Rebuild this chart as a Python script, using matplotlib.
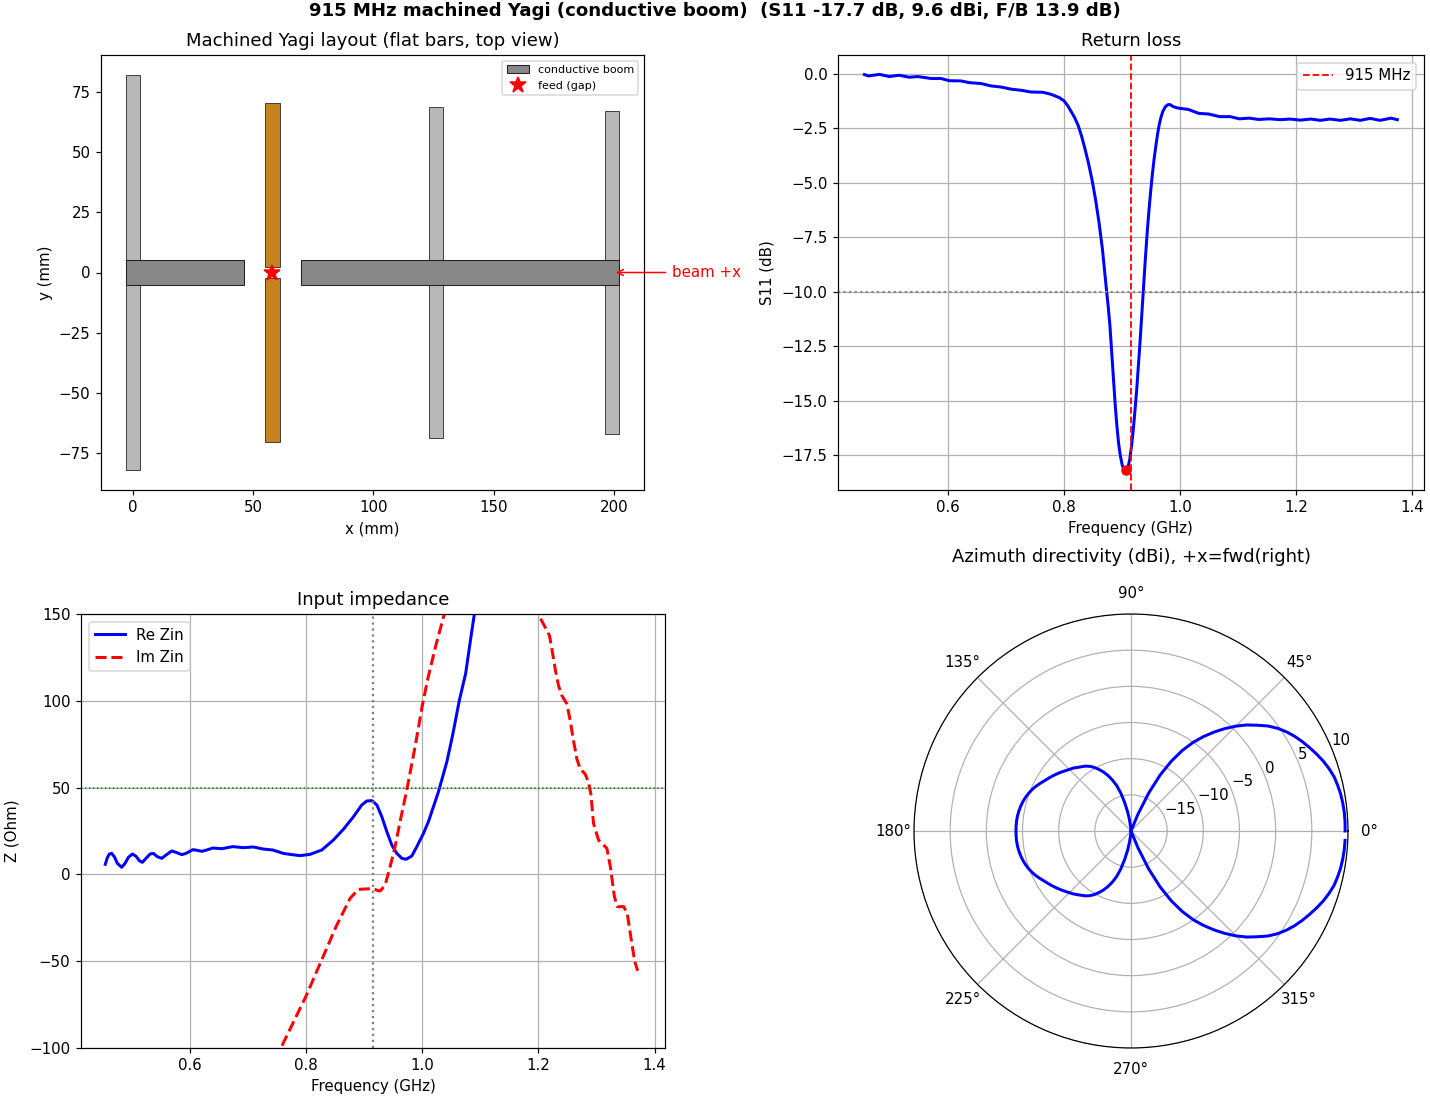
"""915 MHz machined Yagi: layout, S11, input impedance, azimuth pattern."""
import numpy as np
import matplotlib
matplotlib.use("Agg")
import matplotlib.pyplot as plt
from matplotlib.patches import Rectangle

W = 1430.0
H = 1100.0
DPI = 108

# layout (mm): element centre x, half length
ELEM_X = [0, 126, 199.2]
ELEM_HALF_LEN = [82, 68.8, 67]
DRIVEN_X = 58
DRIVEN_HALF_LEN = 70.4
DRIVEN_GAP = 2.4
BAR_W = 6
BOOM_SPANS = [(-3, 46), (70, 202)]
BOOM_W = 10

# S11 (GHz, dB)
S11_F = [0.456, 0.463, 0.482, 0.499, 0.516, 0.533, 0.548, 0.571, 0.588, 0.602, 0.622, 0.637,
         0.657, 0.674, 0.691, 0.709, 0.726, 0.743, 0.763, 0.777, 0.792, 0.800, 0.806, 0.812,
         0.818, 0.824, 0.830, 0.836, 0.842, 0.848, 0.854, 0.860, 0.866, 0.873, 0.876, 0.879,
         0.882, 0.885, 0.888, 0.891, 0.894, 0.897, 0.900, 0.903, 0.907, 0.910, 0.913, 0.916,
         0.919, 0.922, 0.925, 0.928, 0.931, 0.934, 0.937, 0.940, 0.943, 0.946, 0.949, 0.952,
         0.955, 0.958, 0.961, 0.964, 0.967, 0.970, 0.974, 0.978, 0.982, 0.986, 0.990, 0.995,
         1.000, 1.014, 1.032, 1.049, 1.068, 1.086, 1.102, 1.119, 1.135, 1.154, 1.172,
         1.189, 1.207, 1.225, 1.241, 1.258, 1.276, 1.293, 1.310, 1.327, 1.344, 1.363, 1.374]
S11_DB = [-0.03, -0.09, -0.02, -0.12, -0.06, -0.15, -0.12, -0.21, -0.21, -0.31, -0.32, -0.40,
          -0.44, -0.55, -0.60, -0.70, -0.75, -0.83, -0.84, -0.93, -1.09, -1.24, -1.45, -1.72,
          -2.0, -2.35, -2.85, -3.45, -4.1, -4.85, -5.75, -6.8, -8.05, -9.93, -10.7, -11.6,
          -12.8, -14.0, -15.2, -16.2, -17.0, -17.55, -17.95, -18.15, -18.2, -18.05, -17.7, -17.1,
          -16.36, -15.45, -14.5, -13.35, -12.2, -10.95, -9.7, -8.45, -7.3, -6.3, -5.4, -4.6,
          -3.9, -3.3, -2.75, -2.3, -1.97, -1.72, -1.52, -1.42, -1.4, -1.47, -1.52, -1.56,
          -1.58, -1.63, -1.81, -1.84, -1.96, -1.96, -2.06, -2.03, -2.09, -2.06, -2.10,
          -2.07, -2.12, -2.07, -2.13, -2.07, -2.13, -2.06, -2.13, -2.04, -2.13, -2.03, -2.10]
S11_MIN_F = 0.907
S11_MIN_DB = -18.2

# input impedance (GHz, ohm)
RE_F = [0.455, 0.4585, 0.462, 0.466, 0.4705, 0.4757, 0.4833, 0.489, 0.4947, 0.5016, 0.508, 0.5136,
        0.5188, 0.5251, 0.532, 0.5377, 0.5446, 0.5522, 0.5596, 0.5694, 0.5768, 0.5866, 0.594, 0.6055,
        0.6124, 0.621, 0.6296, 0.640, 0.6554, 0.6743, 0.6926, 0.7098, 0.727, 0.7432, 0.7614, 0.7759,
        0.790, 0.8074, 0.8275, 0.8475, 0.8647, 0.8819, 0.8963, 0.905, 0.9136, 0.9222, 0.9308, 0.9394,
        0.948, 0.9566, 0.9652, 0.9726, 0.9824, 0.991, 1.0024, 1.011, 1.0196, 1.0282, 1.0427, 1.0525,
        1.064, 1.075, 1.0816, 1.090, 1.098]
RE_Z = [5.8, 9.6, 11.75, 12.1, 10.2, 6.4, 4.07, 6.4, 9.8, 11.75, 10.4, 7.9,
        6.95, 9.26, 11.75, 12.1, 10.2, 9.26, 11.2, 13.5, 12.7, 11.4, 12.1, 14.25,
        13.9, 13.3, 14.05, 15.2, 14.8, 16.0, 15.4, 15.8, 14.6, 14.05, 12.1, 11.4,
        10.8, 11.55, 14.05, 19.8, 26.0, 33.2, 40.0, 42.3, 42.5, 40.0, 33.2, 24.6,
        16.9, 12.1, 9.26, 8.7, 10.6, 16.0, 23.6, 30.4, 39.0, 47.6, 64.9, 80.0,
        100.0, 115.7, 131.0, 150.0, 171.0]
IM_F = [0.748, 0.760, 0.800, 0.826, 0.852, 0.8762, 0.8905, 0.9136, 0.9279, 0.9365, 0.945, 0.9536,
        0.9622, 0.9737, 0.988, 1.000, 1.010, 1.023, 1.038, 1.046, 1.195, 1.2033, 1.2119, 1.2193,
        1.2234, 1.2291, 1.2348, 1.2406, 1.2492, 1.2549, 1.2606, 1.2664, 1.2721, 1.2807, 1.2864, 1.2905,
        1.295, 1.3036, 1.318, 1.324, 1.331, 1.336, 1.347, 1.353, 1.360, 1.366, 1.371]
IM_Z = [-107.0, -98.0, -70.4, -50.3, -30.1, -13.8, -8.6, -8.2, -9.6, -6.1, 4.4, 16.0,
        30.4, 48.6, 73.5, 96.5, 112.9, 131.0, 149.7, 159.0, 158.0, 147.7, 142.3, 137.5,
        129.8, 118.3, 108.7, 103.0, 98.2, 88.6, 77.0, 66.5, 60.7, 57.8, 53.0, 46.3,
        29.4, 19.8, 15.0, 4.4, -12.9, -18.6, -18.6, -22.5, -37.8, -50.3, -55.5]

# azimuth directivity (dBi), one value every 2.5 deg from 0
AZ_STEP_DEG = 2.5
AZ_DB = [9.6, 9.62, 9.6, 9.53, 9.43, 9.26, 9.06, 8.7, 8.28, 7.78, 7.25, 6.72, 6.15, 5.5, 4.75, 3.85,
         2.75, 1.7, 0.5, -0.8, -2.15, -3.55, -5.05, -6.8, -8.85, -11.3, -14.2, -17.5, -20,
         -20, -20, -20, -20, -20, -20, -20, -20, -20,
         -19.6, -18.5, -17.3, -16.0, -14.6, -13.4,
         -12.5, -11.7, -11.0, -10.4, -9.85, -9.4, -9.05, -8.8, -8.5, -8.2, -7.95, -7.65, -7.35,
         -7.05, -6.75, -6.45, -6.15, -5.8, -5.45, -5.15, -4.9, -4.68, -4.5, -4.36, -4.25, -4.17,
         -4.12, -4.1, -4.1,
         -4.1, -4.12, -4.17, -4.25, -4.36, -4.5, -4.68, -4.9, -5.15, -5.45, -5.8, -6.15, -6.45,
         -6.75, -7.05, -7.35, -7.65, -7.95, -8.2, -8.5, -8.8, -9.05, -9.4, -9.85, -10.4, -11.0,
         -11.7, -12.5,
         -13.4, -14.6, -16.0, -17.3, -18.5, -19.6,
         -20, -20, -20, -20, -20, -20, -20, -20, -20,
         -20, -17.5, -14.2, -11.3, -8.85, -6.8, -5.05, -3.55, -2.15, -0.8, 0.5, 1.7, 2.75,
         3.85, 4.75, 5.5, 6.15, 6.72, 7.25, 7.78, 8.28, 8.7, 9.06, 9.26, 9.43, 9.53, 9.6, 9.62]


def box(left, top, right, bottom, **kw):
    # pixel box of the reference -> figure fraction
    return plt.gcf().add_axes([left / W, 1 - bottom / H, (right - left) / W, (bottom - top) / H], **kw)


fig = plt.figure(figsize=(W / DPI, H / DPI), dpi=DPI)
fig.suptitle("915 MHz machined Yagi (conductive boom)  (S11 -17.7 dB, 9.6 dBi, F/B 13.9 dB)",
             fontsize=12.1, fontweight="bold", x=0.5, y=0.9985, va="top")

# layout
ax = box(101, 55, 644, 490)
for x, hl in zip(ELEM_X, ELEM_HALF_LEN):
    ax.add_patch(Rectangle((x - BAR_W / 2, -hl), BAR_W, 2 * hl, fc="#b8b8b8", ec="#333333", lw=0.6, zorder=2))
for y0, y1 in [(DRIVEN_GAP, DRIVEN_HALF_LEN), (-DRIVEN_HALF_LEN, -DRIVEN_GAP)]:
    ax.add_patch(Rectangle((DRIVEN_X - BAR_W / 2, y0), BAR_W, y1 - y0, fc="#c8811f", ec="#333333", lw=0.6, zorder=2))
for i, (x0, x1) in enumerate(BOOM_SPANS):
    ax.add_patch(Rectangle((x0, -BOOM_W / 2), x1 - x0, BOOM_W, fc="#888888", ec="#222222", lw=0.7, zorder=3,
                           label="conductive boom" if i == 0 else None))
ax.plot([DRIVEN_X], [0], marker="*", color="red", ms=11, ls="", zorder=5, label="feed (gap)")
ax.annotate("beam +x", xy=(199.5, 0), xytext=(224, 0), color="red", fontsize=10, va="center",
            annotation_clip=False, arrowprops=dict(arrowstyle="->", color="red"))
ax.set_xlim(-13.3, 212.5)
ax.set_ylim(-90.4, 90.4)
ax.set_xlabel("x (mm)")
ax.set_ylabel("y (mm)")
ax.set_title("Machined Yagi layout (flat bars, top view)")
ax.legend(loc="upper right", fontsize=7.4)

# return loss
ax = box(838, 55, 1423.5, 490)
ax.plot(S11_F, S11_DB, color="blue", lw=2)
ax.axvline(0.915, color="red", ls="--", lw=1.2, label="915 MHz")
ax.axhline(-10, color="gray", ls=":", lw=1.4)
ax.plot([S11_MIN_F], [S11_MIN_DB], "o", color="red", ms=6, zorder=5)
ax.set_xlim(0.4105, 1.419)
ax.set_ylim(-19.1, 0.87)
ax.set_xticks([0.6, 0.8, 1.0, 1.2, 1.4])
ax.set_yticks(np.arange(-17.5, 0.1, 2.5))
ax.grid(True)
ax.set_xlabel("Frequency (GHz)")
ax.set_ylabel("S11 (dB)", labelpad=5)
ax.set_title("Return loss")
ax.legend(loc="upper right")

# impedance
ax = box(81, 614, 665, 1048)
ax.plot(RE_F, RE_Z, color="blue", lw=2, label="Re Zin")
ax.plot(IM_F, IM_Z, color="red", lw=2, ls="--", label="Im Zin")
ax.axvline(0.915, color="gray", ls=":", lw=1.5)
ax.axhline(50, color="green", ls=":", lw=1)
ax.set_xlim(0.4132, 1.418)
ax.set_ylim(-100, 150)
ax.set_xticks([0.6, 0.8, 1.0, 1.2, 1.4])
ax.grid(True)
ax.set_xlabel("Frequency (GHz)")
ax.set_ylabel("Z (Ohm)", labelpad=6.5)
ax.set_title("Input impedance")
ax.legend(loc="upper left")

# pattern
ax = box(914, 614, 1348, 1048, projection="polar")
az_theta = np.deg2rad(np.arange(len(AZ_DB)) * AZ_STEP_DEG)
ax.plot(az_theta, AZ_DB, color="blue", lw=2)
ax.set_rlim(-20, 10)
ax.set_rticks([-15, -10, -5, 0, 5, 10])
ax.set_title("Azimuth directivity (dBi), +x=fwd(right)", pad=35)

fig.savefig("out.png", dpi=DPI)
